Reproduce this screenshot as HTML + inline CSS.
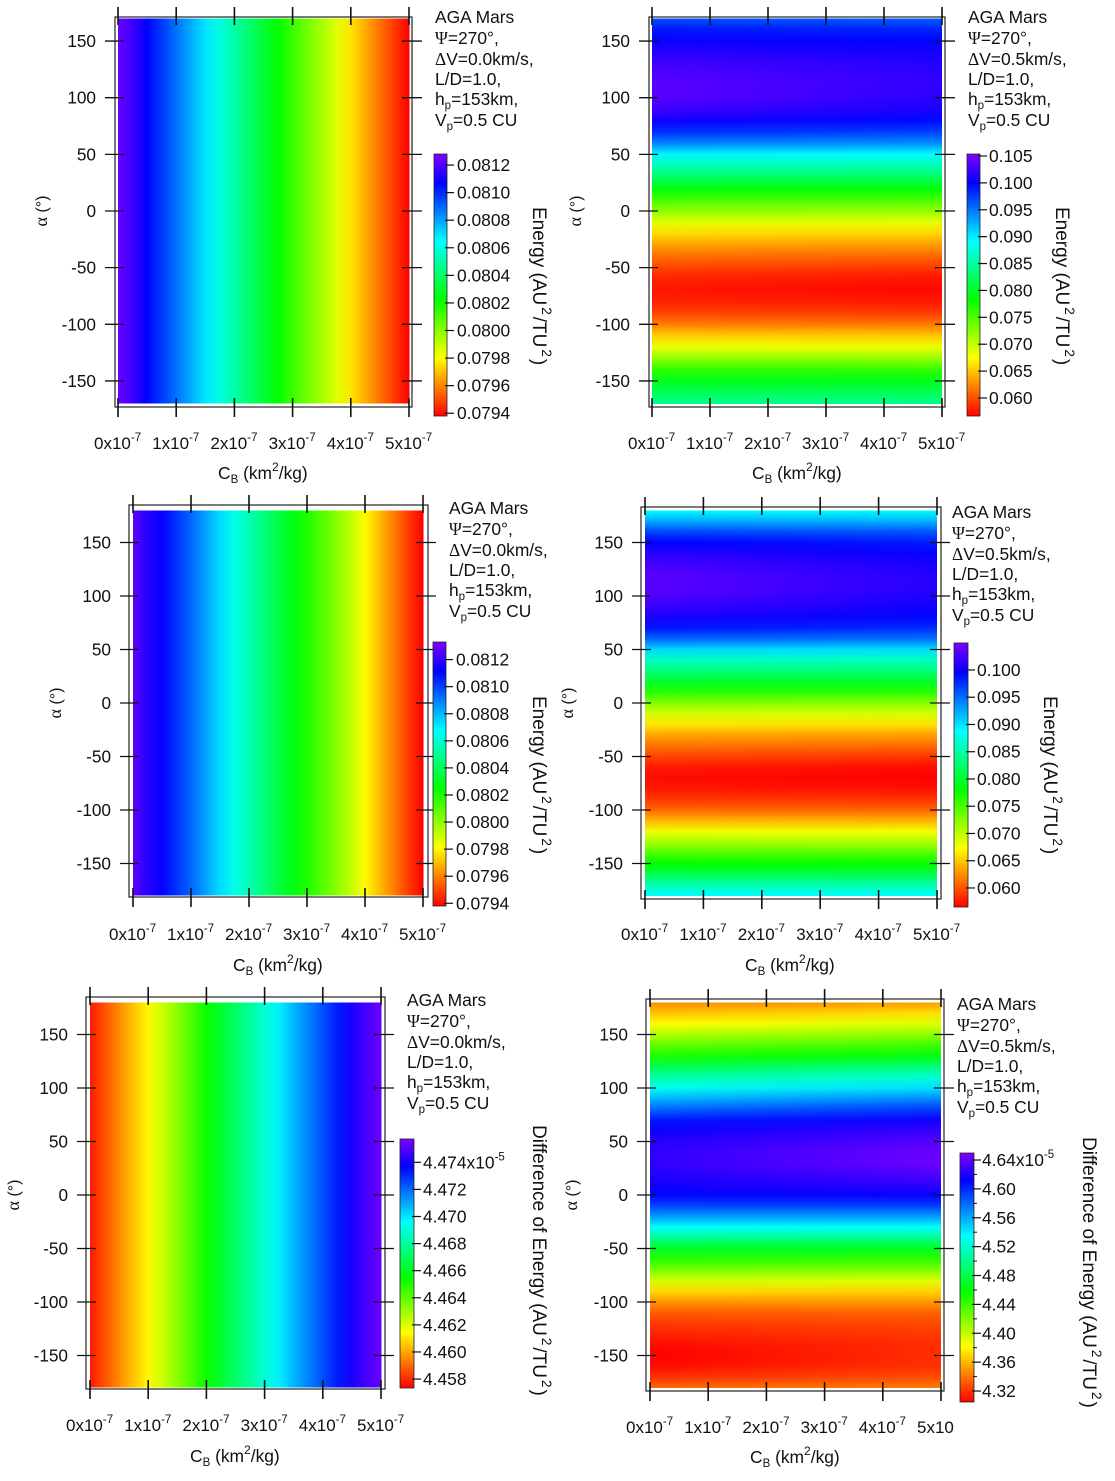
<!DOCTYPE html>
<html lang="en">
<head>
<meta charset="utf-8">
<title>AGA Mars energy heatmaps</title>
<style>
html,body{margin:0;padding:0;background:#fff;}
svg{display:block;}
text{font-family:"Liberation Sans",sans-serif;fill:#111;}
.sym{font-family:"Liberation Serif",serif;}
</style>
</head>
<body>
<svg id="figure" xmlns="http://www.w3.org/2000/svg" width="1115" height="1481" viewBox="0 0 1115 1481">
<defs id="defs"></defs>
</svg>
<script>
// ---------- shared axis data ----------
const alphaTicks = [150, 100, 50, 0, -50, -100, -150];
const cbTicks = [0, 1, 2, 3, 4, 5];
const cbSamples = [0, 0.25, 0.5, 0.75, 1, 1.25, 1.5, 1.75, 2, 2.25, 2.5, 2.75, 3, 3.25, 3.5, 3.75, 4, 4.25, 4.5, 4.75, 5];
const alphaSamples170 = [170, 160, 150, 140, 130, 120, 110, 100, 90, 80, 70, 60, 50, 40, 30, 20, 10, 0, -10, -20, -30, -40, -50, -60, -70, -80, -90, -100, -110, -120, -130, -140, -150, -160, -170];
const alphaSamples180 = [180, 170, 160, 150, 140, 130, 120, 110, 100, 90, 80, 70, 60, 50, 40, 30, 20, 10, 0, -10, -20, -30, -40, -50, -60, -70, -80, -90, -100, -110, -120, -130, -140, -150, -160, -170, -180];

// ---------- panel series ----------
const energyByCbTop = [0.081252, 0.081166, 0.081069, 0.080976, 0.080881, 0.080786, 0.080691, 0.080596, 0.080501, 0.080406, 0.080311, 0.080224, 0.080131, 0.080036, 0.07995, 0.079855, 0.07976, 0.079665, 0.07957, 0.079475, 0.07938];
const energyByCbMid = [0.08127, 0.08118, 0.08112, 0.08103, 0.08094, 0.08084, 0.08074, 0.08064, 0.08055, 0.08046, 0.08036, 0.08028, 0.08020, 0.08011, 0.08002, 0.07992, 0.07981, 0.07970, 0.07959, 0.07948, 0.07938];
const diffByCb = [4.45771, 4.45863, 4.45955, 4.46046, 4.46131, 4.46230, 4.46331, 4.46432, 4.46537, 4.46625, 4.46714, 4.46800, 4.46892, 4.46984, 4.47076, 4.47158, 4.47241, 4.47324, 4.47407, 4.47480, 4.47535];

const energyTopCb0 = [0.0966, 0.0990, 0.1005, 0.1017, 0.1027, 0.1034, 0.1039, 0.1036, 0.1027, 0.1007, 0.0981, 0.0944, 0.0895, 0.0859, 0.0825, 0.0788, 0.0754, 0.0722, 0.0688, 0.0659, 0.0635, 0.0613, 0.0596, 0.0581, 0.0576, 0.0581, 0.0596, 0.0620, 0.0654, 0.0683, 0.0722, 0.0764, 0.0795, 0.0820, 0.0844];
const energyTopCb5 = [0.0960, 0.0985, 0.0998, 0.1008, 0.1015, 0.1019, 0.1020, 0.1017, 0.1010, 0.0996, 0.0973, 0.0940, 0.0893, 0.0858, 0.0824, 0.0787, 0.0753, 0.0720, 0.0686, 0.0657, 0.0632, 0.0610, 0.0590, 0.0574, 0.0570, 0.0577, 0.0592, 0.0617, 0.0651, 0.0681, 0.0720, 0.0762, 0.0793, 0.0818, 0.0842];

const energyMidCb0 = [0.0888, 0.0924, 0.0967, 0.0996, 0.1013, 0.1025, 0.1033, 0.1035, 0.1030, 0.1020, 0.1006, 0.0987, 0.0953, 0.0904, 0.0861, 0.0832, 0.0798, 0.0764, 0.0725, 0.0691, 0.0662, 0.0635, 0.0614, 0.0594, 0.0577, 0.0570, 0.0575, 0.0589, 0.0609, 0.0643, 0.0679, 0.0710, 0.0747, 0.0780, 0.0812, 0.0856, 0.0888];
const energyMidCb5 = [0.0885, 0.0920, 0.0960, 0.0985, 0.0998, 0.1005, 0.1010, 0.1012, 0.1008, 0.1002, 0.0993, 0.0977, 0.0948, 0.0902, 0.0860, 0.0831, 0.0797, 0.0763, 0.0724, 0.0690, 0.0660, 0.0632, 0.0610, 0.0588, 0.0570, 0.0566, 0.0572, 0.0587, 0.0607, 0.0641, 0.0677, 0.0708, 0.0745, 0.0778, 0.0810, 0.0854, 0.0886];

const diffBottomCb0 = [4.346, 4.363, 4.381, 4.405, 4.429, 4.450, 4.481, 4.508, 4.529, 4.557, 4.581, 4.605, 4.615, 4.622, 4.626, 4.626, 4.622, 4.617, 4.610, 4.591, 4.564, 4.535, 4.501, 4.470, 4.446, 4.422, 4.395, 4.370, 4.350, 4.332, 4.322, 4.315, 4.308, 4.305, 4.308, 4.319, 4.336];
const diffBottomCb5 = [4.352, 4.372, 4.392, 4.416, 4.440, 4.462, 4.494, 4.522, 4.545, 4.570, 4.594, 4.616, 4.628, 4.637, 4.643, 4.644, 4.636, 4.626, 4.614, 4.593, 4.564, 4.534, 4.499, 4.468, 4.444, 4.420, 4.392, 4.368, 4.350, 4.334, 4.327, 4.322, 4.319, 4.319, 4.320, 4.328, 4.342];

// ---------- colour bar ticks ----------
const energyBarTicksA = ["0.0812", "0.0810", "0.0808", "0.0806", "0.0804", "0.0802", "0.0800", "0.0798", "0.0796", "0.0794"];
const energyBarTicksB = ["0.105", "0.100", "0.095", "0.090", "0.085", "0.080", "0.075", "0.070", "0.065", "0.060"];
const energyBarTicksC = ["0.100", "0.095", "0.090", "0.085", "0.080", "0.075", "0.070", "0.065", "0.060"];
const diffBarTicksA = ["4.474", "4.472", "4.470", "4.468", "4.466", "4.464", "4.462", "4.460", "4.458"];
const diffBarTicksB = ["4.64", "4.60", "4.56", "4.52", "4.48", "4.44", "4.40", "4.36", "4.32"];

// ---------- layout of each panel (axis domains and pixel ranges) ----------
const panelConfigs = [
 {id:'top-left', dv:'0.0', mode:'cb', series:[energyByCbTop], x0:118, x1:409, yZero:211, pxDeg:1.133, aMax:170,
  frame:[115,17,412,407], textX:435, textY:23, xLabelY:449, xTitleY:479, alphaX:47,
  bar:{x:434,y:154,w:13,h:262,vmin:0.07938,vmax:0.08128,labels:energyBarTicksA,labelX:457},
  title:'energy', titleX:533, titleY:207},
 {id:'top-right', dv:'0.5', mode:'alpha', samples:alphaSamples170, series:[energyTopCb0, energyTopCb5], x0:652, x1:942, yZero:211, pxDeg:1.133, aMax:170,
  frame:[649,17,945,407], textX:968, textY:23, xLabelY:449, xTitleY:479, alphaX:581,
  bar:{x:967,y:154,w:13,h:262,vmin:0.05665,vmax:0.10537,labels:energyBarTicksB,labelX:989},
  title:'energy', titleX:1056, titleY:207},
 {id:'middle-left', dv:'0.0', mode:'cb', series:[energyByCbMid], x0:133, x1:423, yZero:703, pxDeg:1.07, aMax:180,
  frame:[129,505,428,897], textX:449, textY:514, xLabelY:940, xTitleY:971, alphaX:61,
  bar:{x:433,y:642,w:13,h:264,vmin:0.07938,vmax:0.08133,labels:energyBarTicksA,labelX:456},
  title:'energy', titleX:533, titleY:696},
 {id:'middle-right', dv:'0.5', mode:'alpha', samples:alphaSamples180, series:[energyMidCb0, energyMidCb5], x0:645, x1:937, yZero:703, pxDeg:1.07, aMax:180,
  frame:[641,507,941,899], textX:952, textY:518, xLabelY:940, xTitleY:971, alphaX:573,
  bar:{x:954,y:643,w:14,h:264,vmin:0.05651,vmax:0.10495,labels:energyBarTicksC,labelX:977},
  title:'energy', titleX:1044, titleY:696},
 {id:'bottom-left', dv:'0.0', mode:'cb', series:[diffByCb], x0:90, x1:381, yZero:1195, pxDeg:1.07, aMax:180,
  frame:[86,997,385,1389], textX:407, textY:1006, xLabelY:1431, xTitleY:1462, alphaX:19,
  bar:{x:400,y:1139,w:14,h:249,vmin:4.45734,vmax:4.47572,labels:diffBarTicksA,labelX:423,sup:true},
  title:'diff', titleX:533, titleY:1125},
 {id:'bottom-right', dv:'0.5', mode:'alpha', samples:alphaSamples180, series:[diffBottomCb0, diffBottomCb5], x0:650, x1:941, yZero:1195, pxDeg:1.07, aMax:180,
  frame:[646,999,944,1391], textX:957, textY:1010, xLabelY:1433, xTitleY:1463, alphaX:577, clipLastSup:true,
  bar:{x:960,y:1153,w:14,h:249,vmin:4.3048,vmax:4.6497,labels:diffBarTicksB,labelX:982,sup:true,minor:true},
  title:'diff', titleX:1083, titleY:1137}
];

const SVG_NS = 'http://www.w3.org/2000/svg';
const figure = document.getElementById('figure');
const defs = document.getElementById('defs');
let gradId = 0;

function make(tag, attrs, parent) {
  const el = document.createElementNS(SVG_NS, tag);
  for (const k in attrs) el.setAttribute(k, attrs[k]);
  if (parent) parent.appendChild(el);
  return el;
}

function tspan(parent, txt, attrs) {
  const t = make('tspan', attrs || {}, parent);
  t.textContent = txt;
  return t;
}

// value -> hue: red (low) through yellow, green, cyan, blue to purple (high)
function rainbow(v, vmin, vmax) {
  const t = Math.min(1, Math.max(0, (v - vmin) / (vmax - vmin)));
  return 'hsl(' + (270 * t).toFixed(1) + ',100%,50%)';
}

function cellGradient(c1, c2, x1, y1, x2, y2) {
  const id = 'g' + (gradId++);
  const g = make('linearGradient', {id:id, gradientUnits:'userSpaceOnUse', x1:x1, y1:y1, x2:x2, y2:y2}, defs);
  make('stop', {offset:0, 'stop-color':c1}, g);
  make('stop', {offset:1, 'stop-color':c2}, g);
  return id;
}

function line(parent, x1, y1, x2, y2, w, color) {
  return make('line', {x1:x1, y1:y1, x2:x2, y2:y2, stroke:color || '#111', 'stroke-width':w || 1.2}, parent);
}

function drawHeatByCb(p, g, xScale) {
  const yTop = p.yZero - p.aMax * p.pxDeg;
  const yBot = p.yZero + p.aMax * p.pxDeg;
  const values = p.series[0];
  for (let i = 0; i < cbSamples.length - 1; i++) {
    const xa = xScale(cbSamples[i]);
    const xb = xScale(cbSamples[i + 1]);
    const id = cellGradient(rainbow(values[i], p.bar.vmin, p.bar.vmax), rainbow(values[i + 1], p.bar.vmin, p.bar.vmax), xa, 0, xb, 0);
    const cell = make('rect', {x:xa, y:yTop, width:xb - xa + 0.6, height:yBot - yTop, fill:'url(#' + id + ')', 'shape-rendering':'crispEdges'}, g);
    
    
  }
}

function drawHeatByAlpha(p, g, values, yScale) {
  for (let i = 0; i < p.samples.length - 1; i++) {
    const ya = yScale(p.samples[i]);
    const yb = yScale(p.samples[i + 1]);
    const id = cellGradient(rainbow(values[i], p.bar.vmin, p.bar.vmax), rainbow(values[i + 1], p.bar.vmin, p.bar.vmax), 0, ya, 0, yb);
    const cell = make('rect', {x:p.x0, y:ya, width:p.x1 - p.x0, height:yb - ya + 0.6, fill:'url(#' + id + ')', 'shape-rendering':'crispEdges'}, g);
    
    
  }
}

function drawPanel(p) {
  const xScale = c => p.x0 + (p.x1 - p.x0) * c / 5;
  const yScale = a => p.yZero - a * p.pxDeg;
  const root = make('g', {}, figure);
  
  

  // heatmap
  const heat = make('g', {}, root);
  
  
  if (p.mode === 'cb') {
    drawHeatByCb(p, heat, xScale);
  } else {
    drawHeatByAlpha(p, heat, p.series[0], yScale);
    // CB = 5e-7 layer blended across the width
    const maskId = 'm-' + p.id;
    const fadeId = cellGradient('#000', '#fff', p.x0, 0, p.x1, 0);
    const mask = make('mask', {id:maskId, maskUnits:'userSpaceOnUse', x:p.x0 - 2, y:0, width:p.x1 - p.x0 + 4, height:1481}, defs);
    make('rect', {x:p.x0 - 2, y:0, width:p.x1 - p.x0 + 4, height:1481, fill:'url(#' + fadeId + ')'}, mask);
    const layer = make('g', {mask:'url(#' + maskId + ')'}, heat);
    
    
    drawHeatByAlpha(p, layer, p.series[1], yScale);
  }

  // frame
  const f = p.frame;
  const frame = make('rect', {x:f[0], y:f[1], width:f[2] - f[0], height:f[3] - f[1], fill:'none', stroke:'#222', 'stroke-width':1.2}, root);
  
  

  // y axis
  const yAxis = make('g', {}, root);
  
  
  alphaTicks.forEach(a => {
    const y = yScale(a);
    const tl = line(yAxis, p.x0 - 13, y, p.x0 + 6, y, 1.3);
    
    
    const tr = line(yAxis, p.x1 - 7, y, p.x1 + 13, y, 1.3);
    
    
    const lab = make('text', {x:p.x0 - 22, y:y + 6, 'text-anchor':'end', 'font-size':17.2}, yAxis);
    lab.textContent = String(a);
    
    
  });
  const aTitle = make('text', {x:p.alphaX, y:p.yZero, 'text-anchor':'middle', 'font-size':16, transform:'rotate(-90 ' + p.alphaX + ' ' + p.yZero + ')'}, root);
  tspan(aTitle, 'α', {class:'sym', 'font-size':18});
  tspan(aTitle, ' (°)');
  
  

  // x axis
  const xAxis = make('g', {}, root);
  
  
  cbTicks.forEach((c, i) => {
    const x = xScale(c);
    const tt = line(xAxis, x, f[1] - 10, x, f[1] + 8, 1.6);
    
    
    const tb = line(xAxis, x, f[3] - 9, x, f[3] + 10, 1.6);
    
    
    const lab = make('text', {x:x - 24, y:p.xLabelY, 'font-size':17}, xAxis);
    tspan(lab, c + 'x10');
    if (!(p.clipLastSup && i === cbTicks.length - 1)) {
      tspan(lab, '-7', {'font-size':11.5, dy:-8});
    }
    
    
  });
  const xTitle = make('text', {x:p.x0 + 100, y:p.xTitleY, 'font-size':17.4}, root);
  tspan(xTitle, 'C');
  tspan(xTitle, 'B', {'font-size':11.5, dy:4});
  tspan(xTitle, ' (km', {dy:-4});
  tspan(xTitle, '2', {'font-size':12, dy:-8});
  tspan(xTitle, '/kg)', {dy:8});
  
  

  // annotation block
  const note = make('text', {'font-size':17.4}, root);
  
  
  const lh = [0, 21, 42, 62, 82, 103];
  tspan(note, 'AGA Mars', {x:p.textX, y:p.textY + lh[0]});
  const psiLine = tspan(note, '', {x:p.textX, y:p.textY + lh[1]});
  tspan(psiLine, 'Ψ', {class:'sym'});
  tspan(psiLine, '=270°,');
  const dvLine = tspan(note, '', {x:p.textX, y:p.textY + lh[2]});
  tspan(dvLine, 'Δ', {class:'sym'});
  tspan(dvLine, 'V=' + p.dv + 'km/s,');
  tspan(note, 'L/D=1.0,', {x:p.textX, y:p.textY + lh[3]});
  const hLine = tspan(note, '', {x:p.textX, y:p.textY + lh[4]});
  tspan(hLine, 'h');
  tspan(hLine, 'p', {'font-size':11.5, dy:4});
  tspan(hLine, '=153km,', {dy:-4});
  const vLine = tspan(note, '', {x:p.textX, y:p.textY + lh[5]});
  tspan(vLine, 'V');
  tspan(vLine, 'p', {'font-size':11.5, dy:4});
  tspan(vLine, '=0.5 CU', {dy:-4});

  // colour bar
  const b = p.bar;
  const barGroup = make('g', {}, root);
  
  
  const barGrad = make('linearGradient', {id:'bar-' + p.id, x1:0, y1:1, x2:0, y2:0}, defs);
  const hues = [0, 60, 120, 180, 240, 270];
  hues.forEach(h => make('stop', {offset:h / 270, 'stop-color':'hsl(' + h + ',100%,50%)'}, barGrad));
  const barRect = make('rect', {x:b.x, y:b.y, width:b.w, height:b.h, fill:'url(#bar-' + p.id + ')', stroke:'#222', 'stroke-width':0.8}, barGroup);
  
  
  const barY = v => b.y + b.h * (b.vmax - v) / (b.vmax - b.vmin);
  b.labels.forEach((s, i) => {
    const v = parseFloat(s);
    const y = barY(v);
    const tick = line(barGroup, b.x + b.w - 2, y, b.x + b.w + 7, y, 1.2);
    
    
    const lab = make('text', {x:b.labelX, y:y + 6, 'font-size':17.4}, barGroup);
    tspan(lab, s + (b.sup && i === 0 ? 'x10' : ''));
    if (b.sup && i === 0) tspan(lab, '-5', {'font-size':11.5, dy:-8});
    
    
    if (b.minor && i < b.labels.length - 1) {
      const my = (y + barY(parseFloat(b.labels[i + 1]))) / 2;
      const mt = line(barGroup, b.x + b.w - 1, my, b.x + b.w + 3, my, 1);
      
      
    }
  });

  // colour bar title
  const title = make('text', {x:p.titleX, y:p.titleY, 'font-size':19, transform:'rotate(90 ' + p.titleX + ' ' + p.titleY + ')'}, root);
  tspan(title, p.title === 'energy' ? 'Energy (AU' : 'Difference of Energy (AU');
  tspan(title, '2', {'font-size':13.5, dy:-9, dx:2});
  tspan(title, '/TU', {dy:9, dx:2});
  tspan(title, '2', {'font-size':13.5, dy:-9, dx:2});
  tspan(title, ')', {dy:9, dx:2});
  
  
}

panelConfigs.forEach(drawPanel);
</script>
</body>
</html>
